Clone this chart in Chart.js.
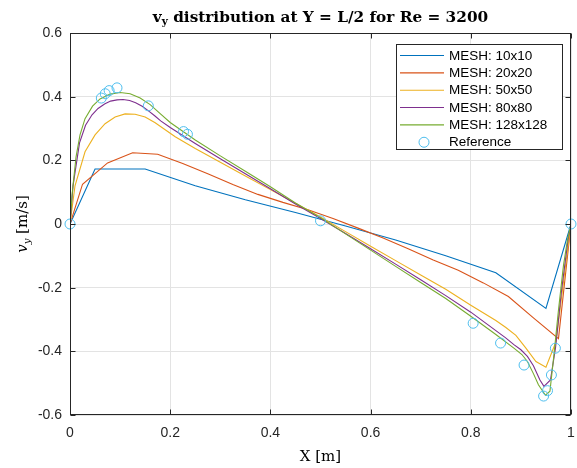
<!DOCTYPE html>
<html><head><meta charset="utf-8">
<script src="https://cdn.jsdelivr.net/npm/chart.js@4"></script>
<style>html,body{margin:0;padding:0;background:#fff;}canvas{display:block}</style>
</head><body>
<div style="width:577px;height:468px"><canvas id="c" width="577" height="468"></canvas></div>
<script>
// ---- data ----
const seriesNames = ['MESH: 10x10','MESH: 20x20','MESH: 50x50','MESH: 80x80','MESH: 128x128','Reference'];
const xTicks = [0,0.2,0.4,0.6,0.8,1];
const xTickLabels = ['0','0.2','0.4','0.6','0.8','1'];
const yTicks = [-0.6,-0.4,-0.2,0,0.2,0.4,0.6];
const yTickLabels = ['-0.6','-0.4','-0.2','0','0.2','0.4','0.6'];

const x10 = [0,0.05,0.15,0.25,0.35,0.45,0.55,0.65,0.75,0.85,0.95,1];
const v10 = [0,0.173,0.173,0.12,0.076,0.036,-0.006,-0.05,-0.1,-0.153,-0.265,0];

const x20 = [0,0.025,0.075,0.125,0.175,0.225,0.275,0.325,0.375,0.425,0.475,0.525,0.575,0.625,0.675,0.725,0.775,0.825,0.875,0.925,0.975,1];
const v20 = [0,0.125,0.192,0.224,0.219,0.19,0.158,0.124,0.093,0.068,0.045,0.017,-0.013,-0.044,-0.078,-0.113,-0.145,-0.185,-0.228,-0.295,-0.36,0];

const x50 = [0,0.01,0.03,0.05,0.07,0.09,0.11,0.13,0.15,0.17,0.19,0.21,0.25,0.3,0.35,0.4,0.45,0.5,0.55,0.6,0.65,0.7,0.75,0.8,0.85,0.87,0.89,0.91,0.93,0.95,0.97,0.99,1];
const v50 = [0,0.12,0.227,0.28,0.315,0.336,0.346,0.345,0.336,0.318,0.296,0.274,0.237,0.194,0.151,0.108,0.065,0.022,-0.024,-0.07,-0.115,-0.16,-0.205,-0.255,-0.303,-0.325,-0.35,-0.39,-0.432,-0.45,-0.37,-0.12,0];

const x80 = [0,0.006,0.019,0.031,0.044,0.056,0.069,0.081,0.094,0.106,0.119,0.131,0.144,0.156,0.169,0.181,0.2,0.25,0.3,0.35,0.4,0.45,0.5,0.55,0.6,0.65,0.7,0.75,0.8,0.85,0.869,0.886,0.9,0.913,0.925,0.938,0.946,0.959,0.969,0.981,0.994,1];
const v80 = [0,0.12,0.255,0.31,0.343,0.363,0.377,0.386,0.39,0.391,0.388,0.381,0.37,0.356,0.34,0.324,0.303,0.253,0.205,0.158,0.111,0.063,0.017,-0.03,-0.078,-0.126,-0.175,-0.225,-0.277,-0.335,-0.357,-0.379,-0.395,-0.416,-0.445,-0.49,-0.51,-0.49,-0.39,-0.21,-0.05,0];

const x128 = [0,0.004,0.012,0.02,0.03,0.045,0.06,0.08,0.1,0.12,0.14,0.16,0.18,0.2,0.25,0.3,0.35,0.4,0.45,0.5,0.55,0.6,0.65,0.7,0.75,0.8,0.85,0.886,0.902,0.913,0.925,0.935,0.949,0.958,0.966,0.975,0.985,0.993,1];
const v128 = [0,0.09,0.21,0.28,0.331,0.37,0.393,0.408,0.413,0.409,0.396,0.375,0.347,0.319,0.264,0.214,0.166,0.117,0.066,0.02,-0.031,-0.082,-0.133,-0.184,-0.234,-0.29,-0.347,-0.39,-0.41,-0.432,-0.47,-0.505,-0.538,-0.525,-0.41,-0.27,-0.13,-0.05,0];

const xRef = [0,0.0625,0.0703,0.0781,0.0938,0.1563,0.2266,0.2344,0.5,0.8047,0.8594,0.9063,0.9453,0.9531,0.9609,0.9688,1];
const vRef = [0,0.3956,0.40917,0.41906,0.42768,0.37119,0.2903,0.28188,0.00999,-0.31184,-0.37401,-0.44307,-0.54053,-0.52357,-0.47425,-0.39017,0];

// ---- styles ----
const colors = ['#0072BD','#D95319','#EDB120','#7E2F8E','#77AC30','#4DBEEE'];
const AXIS = '#262626';
const SANS = '"Liberation Sans", Arial, sans-serif';
const SERIF = '"DejaVu Serif", "Liberation Serif", serif';

function pts(xs, vs){ return xs.map((x,i)=>({x:x, y:vs[i]})); }

function lineDs(i, xs, vs){
  return {label: seriesNames[i], data: pts(xs, vs), borderColor: colors[i], backgroundColor: colors[i],
    borderWidth: 1.1, pointRadius: 0, tension: 0, fill: false, showLine: true, order: 10 - i};
}

function drawParts(ctx, parts, x, y, align){
  let w = 0;
  parts.forEach(p=>{ ctx.font = p.font; p.w = ctx.measureText(p.t).width; w += p.w; });
  let cx = align === 'center' ? x - w/2 : x;
  ctx.textBaseline = 'alphabetic'; ctx.textAlign = 'left';
  parts.forEach(p=>{ ctx.font = p.font; ctx.fillText(p.t, cx, y + (p.dy||0)); cx += p.w; });
}

const decor = {
  id: 'decor',
  afterDraw(chart){
    const ctx = chart.ctx, a = chart.chartArea, sx = chart.scales.x, sy = chart.scales.y;
    ctx.save();
    // box
    ctx.strokeStyle = AXIS; ctx.lineWidth = 1;
    const L = Math.round(a.left)+0.5, R = Math.round(a.right)-0.5, T = Math.round(a.top)+0.5, B = Math.round(a.bottom)-0.5;
    ctx.strokeRect(L, T, R-L, B-T);
    // inward ticks
    ctx.beginPath();
    xTicks.forEach(v=>{ const p = Math.round(sx.getPixelForValue(v))+0.5;
      ctx.moveTo(p, B); ctx.lineTo(p, B-5); ctx.moveTo(p, T); ctx.lineTo(p, T+5); });
    yTicks.forEach(v=>{ const p = Math.round(sy.getPixelForValue(v))+0.5;
      ctx.moveTo(L, p); ctx.lineTo(L+5, p); ctx.moveTo(R, p); ctx.lineTo(R-5, p); });
    ctx.stroke();

    // title
    ctx.fillStyle = '#000';
    const tf = 'bold 15.3px ' + SERIF, tfs = 'bold 10.5px ' + SERIF;
    drawParts(ctx, [{t:'v', font: tf}, {t:'y', font: tfs, dy: 3}, {t:' distribution at Y = L/2 for Re = 3200', font: tf}], (a.left+a.right)/2, 22, 'center');

    // x label
    drawParts(ctx, [{t:'X [m]', font: '15px ' + SERIF}], (a.left+a.right)/2, 461, 'center');

    // y label
    ctx.save();
    ctx.translate(27, (a.top+a.bottom)/2);
    ctx.rotate(-Math.PI/2);
    drawParts(ctx, [{t:'v', font:'italic 15px ' + SERIF}, {t:'y', font:'italic 10px ' + SERIF, dy: 3}, {t:' [m/s]', font:'15px ' + SERIF}], 0, 0, 'center');
    ctx.restore();

    // legend box
    const lg = {x: 396.5, y: 44.5, w: 166, h: 105, row0: 55.5, dy: 17.35, l0: 400, l1: 444, tx: 449, mx: 424};
    ctx.fillStyle = '#fff';
    ctx.fillRect(lg.x, lg.y, lg.w, lg.h);
    ctx.strokeStyle = AXIS; ctx.lineWidth = 1;
    ctx.strokeRect(lg.x, lg.y, lg.w, lg.h);
    chart.data.datasets.forEach((ds, i)=>{
      const yy = lg.row0 + i*lg.dy;
      if (ds.showLine === false){
        ctx.beginPath(); ctx.arc(lg.mx, yy, 5, 0, Math.PI*2);
        ctx.strokeStyle = ds.pointBorderColor; ctx.lineWidth = 1; ctx.stroke();
      } else {
        ctx.beginPath(); ctx.moveTo(lg.l0, yy); ctx.lineTo(lg.l1, yy);
        ctx.strokeStyle = ds.borderColor; ctx.lineWidth = 1.1; ctx.stroke();
      }
      ctx.fillStyle = '#000'; ctx.font = '13.5px ' + SANS;
      ctx.textAlign = 'left'; ctx.textBaseline = 'middle';
      ctx.fillText(ds.label, lg.tx, yy + 0.5);
    });
    ctx.restore();
  }
};

const datasets = [
  lineDs(0, x10, v10),
  lineDs(1, x20, v20),
  lineDs(2, x50, v50),
  lineDs(3, x80, v80),
  lineDs(4, x128, v128),
  {label: seriesNames[5], data: pts(xRef, vRef), showLine: false, pointRadius: 5, pointHoverRadius: 5,
   pointStyle: 'circle', pointBorderColor: colors[5], borderColor: colors[5], pointBackgroundColor: 'rgba(0,0,0,0)',
   backgroundColor: 'rgba(0,0,0,0)', pointBorderWidth: 1, clip: false, order: 0}
];

new Chart(document.getElementById('c'), {
  type: 'scatter',
  data: { datasets },
  options: {
    responsive: false, animation: false, devicePixelRatio: 1,
    layout: { padding: { left: 0, right: 3, top: 33, bottom: 0 } },
    plugins: { legend: { display: false }, title: { display: false }, tooltip: { enabled: false } },
    scales: {
      x: {
        type: 'linear', min: 0, max: 1,
        afterBuildTicks: s => { s.ticks = xTicks.map(v => ({value: v})); },
        afterFit: s => { s.height = 53; s.paddingLeft = 0; s.paddingRight = 0; },
        grid: { color: '#e3e3e3', lineWidth: 1, drawTicks: false },
        border: { display: false },
        ticks: { padding: 10, color: AXIS, font: { family: SANS, size: 14 }, maxRotation: 0, autoSkip: false,
                 callback: (v, i) => xTickLabels[i] }
      },
      y: {
        type: 'linear', min: -0.6, max: 0.6,
        afterBuildTicks: s => { s.ticks = yTicks.map(v => ({value: v})); },
        afterFit: s => { s.width = 70; s.paddingTop = 0; s.paddingBottom = 0; },
        grid: { color: '#e3e3e3', lineWidth: 1, drawTicks: false },
        border: { display: false },
        ticks: { padding: 8, color: AXIS, font: { family: SANS, size: 14 }, autoSkip: false,
                 callback: (v, i) => yTickLabels[i] }
      }
    }
  },
  plugins: [decor]
});
</script>
</body></html>
